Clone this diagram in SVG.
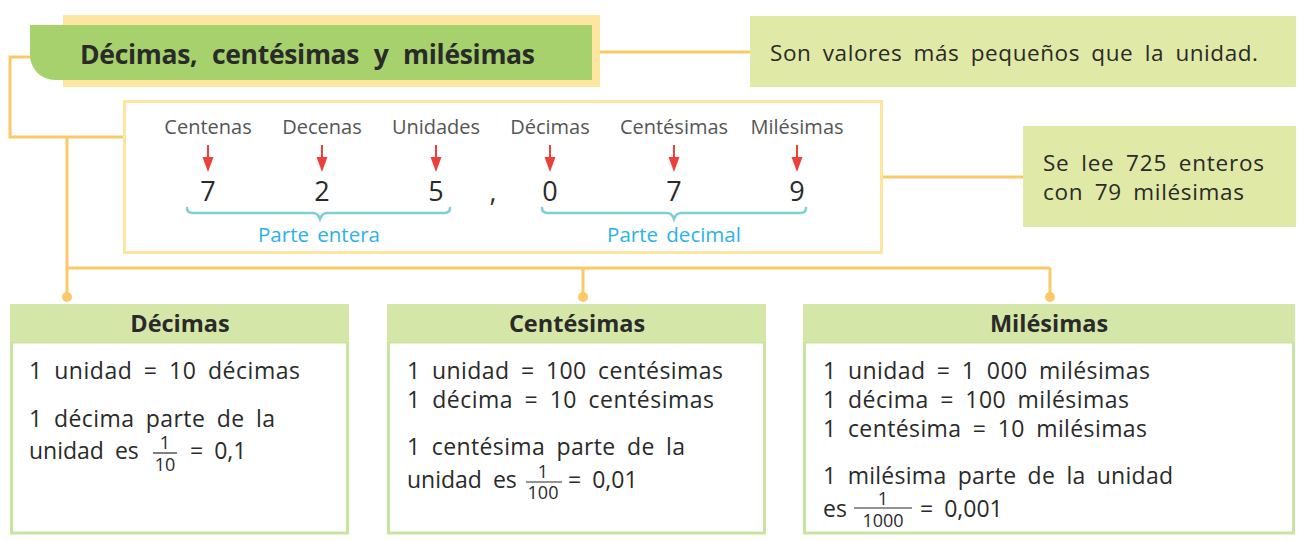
<svg xmlns="http://www.w3.org/2000/svg" width="1300" height="541" viewBox="0 0 1300 541">
<style>
text{font-family:"Open Sans","Liberation Sans",sans-serif;fill:#2a2a2a}
.title{font-size:26.5px;font-weight:bold;word-spacing:8px}
.note{font-size:22.5px;word-spacing:5px}
.lbl{font-size:20px;fill:#555;text-anchor:middle}
.dig{font-size:27px;text-anchor:middle}
.part{font-size:20.5px;fill:#2ab4e6;text-anchor:middle;word-spacing:3px}
.hdr{font-size:23.5px;font-weight:bold;text-anchor:middle}
.body{font-size:23px;word-spacing:5px}
.fr{font-size:18px;text-anchor:middle}
.con{fill:none;stroke:#fbc96a;stroke-width:3}
.dot{fill:#fbc96a}
.arr{stroke:#ee3f3a;stroke-width:2}
.head{fill:#ee3f3a}
.brace{fill:none;stroke:#7dcfd6;stroke-width:2.5;stroke-linecap:round}
.hbox{fill:#d5e7a8}
.bbox{fill:#fff;stroke:#c9e3a0;stroke-width:3}
.gbox{fill:#e0e9a5}
.frl{stroke:#2a2a2a;stroke-width:1.2}
</style>
<g id="connectors">
<polyline class="con" points="40,57 10,57 10,137 123,137"/>
<line class="con" x1="67" y1="137" x2="67" y2="268"/>
<line class="con" x1="595" y1="52" x2="750" y2="52"/>
<line class="con" x1="882" y1="177" x2="1023" y2="177"/>
<polyline class="con" points="67,268 1050,268"/>
<line class="con" x1="67" y1="268" x2="67" y2="297"/>
<line class="con" x1="583" y1="268" x2="583" y2="297"/>
<line class="con" x1="1050" y1="268" x2="1050" y2="297"/>
<circle class="dot" cx="67" cy="297" r="5"/>
<circle class="dot" cx="583" cy="297" r="5"/>
<circle class="dot" cx="1050" cy="297" r="5"/>
</g>
<g id="title">
<rect x="63" y="15" width="537" height="72" fill="#fde7a0"/>
<path d="M30,25 H592 V80 H55 A25,25 0 0 1 30,55 Z" fill="#a6d16c"/>
<text class="title" x="80" y="64" textLength="455">Décimas, centésimas y milésimas</text>
</g>
<g id="note-valores">
<rect class="gbox" x="750" y="16" width="546" height="71"/>
<text class="note" x="770" y="61" textLength="488">Son valores más pequeños que la unidad.</text>
</g>
<g id="number">
<rect x="124.5" y="101.5" width="757" height="151" fill="#fff" stroke="#fde7a0" stroke-width="3"/>
<text class="lbl" x="208" y="134">Centenas</text>
<text class="lbl" x="322" y="134">Decenas</text>
<text class="lbl" x="436" y="134">Unidades</text>
<text class="lbl" x="550" y="134">Décimas</text>
<text class="lbl" x="674" y="134">Centésimas</text>
<text class="lbl" x="797" y="134">Milésimas</text>
<g>
<line class="arr" x1="208" y1="145" x2="208" y2="160"/><path class="head" d="M202.5,157 H213.5 L208,172 Z"/>
<line class="arr" x1="322" y1="145" x2="322" y2="160"/><path class="head" d="M316.5,157 H327.5 L322,172 Z"/>
<line class="arr" x1="436" y1="145" x2="436" y2="160"/><path class="head" d="M430.5,157 H441.5 L436,172 Z"/>
<line class="arr" x1="550" y1="145" x2="550" y2="160"/><path class="head" d="M544.5,157 H555.5 L550,172 Z"/>
<line class="arr" x1="674" y1="145" x2="674" y2="160"/><path class="head" d="M668.5,157 H679.5 L674,172 Z"/>
<line class="arr" x1="797" y1="145" x2="797" y2="160"/><path class="head" d="M791.5,157 H802.5 L797,172 Z"/>
</g>
<text class="dig" x="208" y="201">7</text>
<text class="dig" x="322" y="201">2</text>
<text class="dig" x="436" y="201">5</text>
<text class="dig" x="493" y="201">,</text>
<text class="dig" x="550" y="201">0</text>
<text class="dig" x="674" y="201">7</text>
<text class="dig" x="797" y="201">9</text>
<path class="brace" d="M187,208 Q187,213 193,213 H313 Q318,213 320,219 Q322,213 327,213 H444 Q450,213 450,208"/>
<path class="brace" d="M542,208 Q542,213 548,213 H667 Q672,213 674,219 Q676,213 681,213 H800 Q806,213 806,208"/>
<text class="part" x="319" y="242">Parte entera</text>
<text class="part" x="674" y="242">Parte decimal</text>
</g>
<g id="note-lee">
<rect class="gbox" x="1023" y="126" width="273" height="101"/>
<text class="note" x="1043" y="171" textLength="221">Se lee 725 enteros</text>
<text class="note" x="1043" y="200" textLength="201">con 79 milésimas</text>
</g>
<g id="box-decimas">
<rect class="bbox" x="11.5" y="342" width="336" height="191"/>
<rect class="hbox" x="10" y="304" width="339" height="38"/>
<text class="hdr" x="180" y="332">Décimas</text>
<text class="body" x="29" y="379" textLength="271">1 unidad = 10 décimas</text>
<text class="body" x="29" y="427" textLength="246">1 décima parte de la</text>
<text class="body" x="29" y="459">unidad es</text>
<text class="fr" x="165" y="449">1</text>
<line class="frl" x1="153" y1="453" x2="177" y2="453"/>
<text class="fr" x="165" y="471">10</text>
<text class="body" x="190" y="459">= 0,1</text>
</g>
<g id="box-centesimas">
<rect class="bbox" x="388.5" y="342" width="376" height="191"/>
<rect class="hbox" x="387" y="304" width="379" height="38"/>
<text class="hdr" x="577" y="332">Centésimas</text>
<text class="body" x="407" y="379" textLength="316">1 unidad = 100 centésimas</text>
<text class="body" x="407" y="408" textLength="307">1 décima = 10 centésimas</text>
<text class="body" x="407" y="455" textLength="278">1 centésima parte de la</text>
<text class="body" x="407" y="488">unidad es</text>
<text class="fr" x="543" y="478">1</text>
<line class="frl" x1="526" y1="482" x2="562" y2="482"/>
<text class="fr" x="543" y="499">100</text>
<text class="body" x="568" y="488">= 0,01</text>
</g>
<g id="box-milesimas">
<rect class="bbox" x="804.5" y="342" width="489" height="191"/>
<rect class="hbox" x="803" y="304" width="492" height="38"/>
<text class="hdr" x="1049" y="332">Milésimas</text>
<text class="body" x="823" y="379" textLength="327">1 unidad = 1 000 milésimas</text>
<text class="body" x="823" y="408" textLength="306">1 décima = 100 milésimas</text>
<text class="body" x="823" y="437" textLength="324">1 centésima = 10 milésimas</text>
<text class="body" x="823" y="484" textLength="350">1 milésima parte de la unidad</text>
<text class="body" x="823" y="517">es</text>
<text class="fr" x="883" y="505">1</text>
<line class="frl" x1="854" y1="508" x2="912" y2="508"/>
<text class="fr" x="883" y="527">1000</text>
<text class="body" x="920" y="517">= 0,001</text>
</g>
</svg>
